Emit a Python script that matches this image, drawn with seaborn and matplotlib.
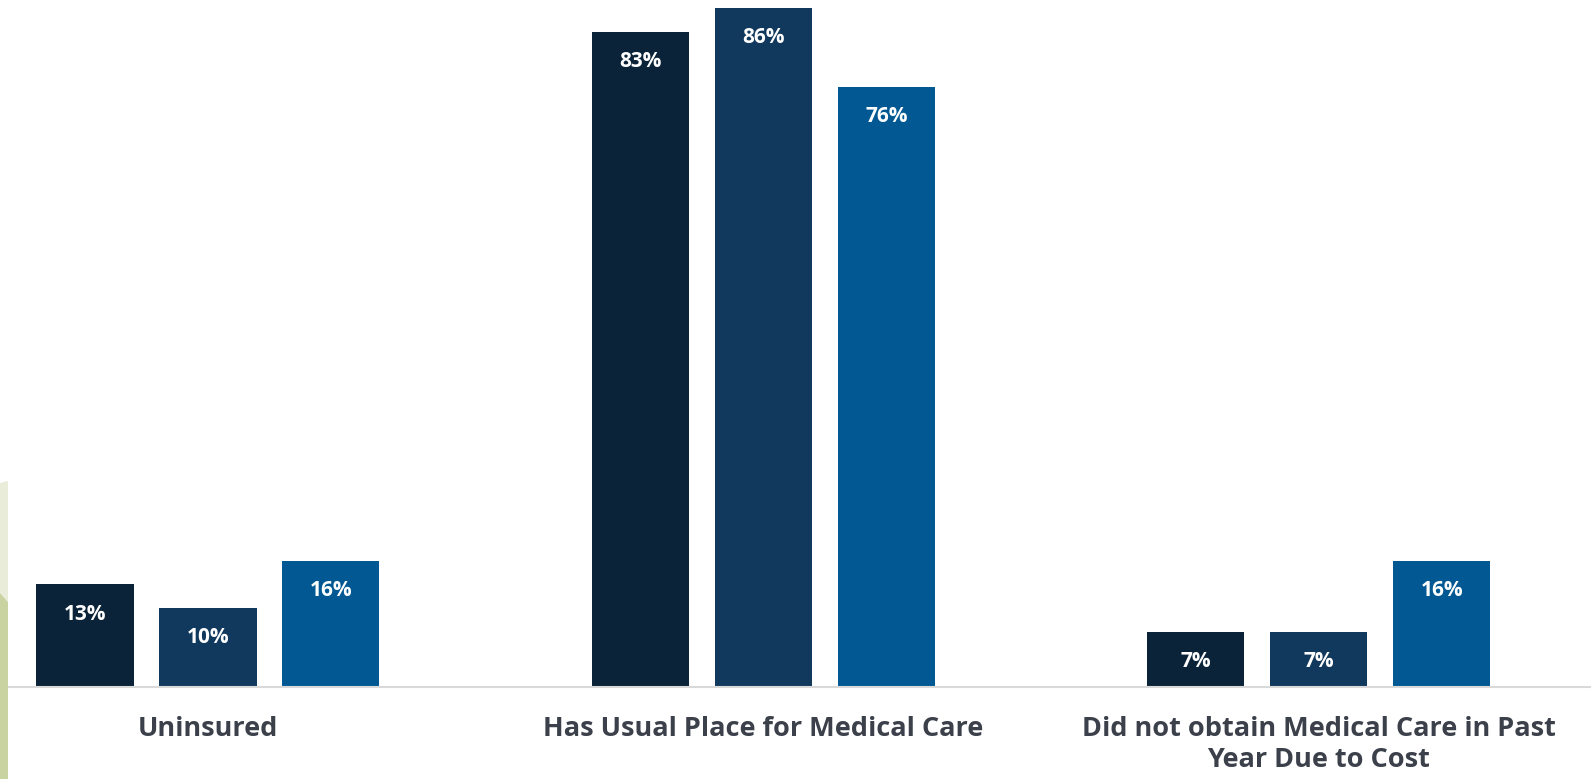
import matplotlib
matplotlib.use("Agg")
import matplotlib.pyplot as plt
import seaborn as sns
import pandas as pd
from matplotlib.patches import Polygon

categories = ["Uninsured", "Has Usual Place for Medical Care",
              "Did not obtain Medical Care in Past\nYear Due to Cost"]
series = ["Series 1", "Series 2", "Series 3"]
values_s1 = [13, 83, 7]
values_s2 = [10, 86, 7]
values_s3 = [16, 76, 16]
colors = ["#0A2338", "#11395D", "#025892"]

rows = []
for s, vals in zip(series, [values_s1, values_s2, values_s3]):
    for c, v in zip(categories, vals):
        rows.append({"category": c, "series": s, "value": v})
df = pd.DataFrame(rows)

sns.set_theme(style="white")
plt.rcParams['font.family'] = ['Open Sans', 'DejaVu Sans']

W, H = 1591, 779
fig = plt.figure(figsize=(W / 100, H / 100), dpi=100)
fig.patch.set_facecolor("white")

# decorative green shapes on the left edge
fig.patches.append(Polygon([[0, 1 - 483 / H], [8 / W, 1 - 481 / H], [8 / W, 1 - 602 / H], [0, 1 - 593 / H]],
                           closed=True, transform=fig.transFigure, facecolor="#E9ECD9", edgecolor="none", zorder=0))
fig.patches.append(Polygon([[0, 1 - 593 / H], [8 / W, 1 - 602 / H], [8 / W, 0], [0, 0]],
                           closed=True, transform=fig.transFigure, facecolor="#C9D3A1", edgecolor="none", zorder=0))

ax_left = 8 / W
ax_bottom = 1 - 687 / H
ax = fig.add_axes([ax_left, ax_bottom, 1 - ax_left, 1 - ax_bottom])
ax.set_facecolor("none")

sns.barplot(data=df, x="category", y="value", hue="series", palette=colors,
            width=0.664, gap=0.21, linewidth=0, saturation=1, legend=False, ax=ax)

ax.set_xlim(-0.36, 2.49)
ax.set_ylim(0, 87)

for cont in ax.containers:
    for p in cont:
        h = p.get_height()
        ax.annotate(f"{h:.0f}%", (p.get_x() + p.get_width() / 2, h),
                    xytext=(0, -21.5), textcoords="offset points",
                    ha="center", va="center", color="white",
                    fontsize=15, fontweight="bold")

ax.set_xlabel("")
ax.set_ylabel("")
ax.set_yticks([])
for side in ["top", "right", "left"]:
    ax.spines[side].set_visible(False)
ax.spines["bottom"].set_color("#D9D9D9")
ax.spines["bottom"].set_linewidth(1.5)
ax.tick_params(axis="x", length=0, pad=21)
for lbl in ax.get_xticklabels():
    lbl.set_fontsize(19.5)
    lbl.set_fontweight("bold")
    lbl.set_color("#3B404A")
    lbl.set_linespacing(1.22)

fig.savefig("out.png", dpi=100, facecolor="white")
